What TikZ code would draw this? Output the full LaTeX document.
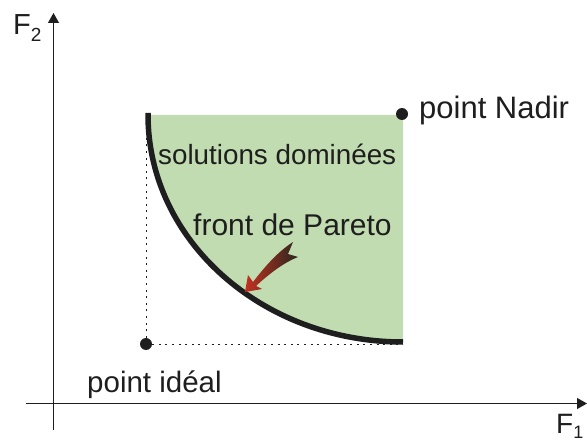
\documentclass[tikz,border=0pt]{standalone}
\usepackage{fontspec}
\setmainfont{Liberation Sans}
\usetikzlibrary{arrows.meta}
\definecolor{greenfill}{RGB}{192,220,176}
\definecolor{txt}{RGB}{30,30,30}
\definecolor{arrred}{RGB}{196,48,32}
\definecolor{arrdark}{RGB}{40,40,30}
\tikzset{
  axisline/.style={line width=1.2pt, draw=txt, -{Triangle[length=10pt,width=11pt]}},
  dotline/.style={line width=1pt, draw=txt, dash pattern=on 2pt off 4.6pt},
  frontline/.style={line width=5.5pt, draw=txt},
  dotpt/.style={circle, fill=txt, inner sep=0pt, minimum size=12pt},
  lbl/.style={anchor=base west, inner sep=0pt, text=txt},
}
\begin{document}
\begin{tikzpicture}[x=1pt,y=-1pt]
\useasboundingbox (0,0) rectangle (587,441);
% green region
\fill[greenfill] (148,115) arc[start angle=180, end angle=90, x radius=255, y radius=227] -- (403,115) -- cycle;
% axes
\coordinate (xs) at (26,403.5);
\coordinate (xe) at (587,403.5);
\coordinate (ys) at (53.5,430);
\coordinate (ye) at (53.5,13);
\draw[axisline] (xs) -- (xe);
\draw[axisline] (ys) -- (ye);
% points
\node[dotpt] (nadir) at (402,114) {};
\node[dotpt] (ideal) at (146,344) {};
\coordinate (top) at (146,115);
\coordinate (right) at (403,344);
\draw[dotline] (ideal) -- (top);
\draw[dotline] (ideal) -- (right);
% Pareto front
\draw[frontline] (148,113) -- (148,115) arc[start angle=180, end angle=90, x radius=255, y radius=227];
% fancy arrow
\shade[left color=arrred, right color=arrdark]
  (245,292) -- (248,275) -- (253,282)
  .. controls (266,265) and (279,251) .. (293,242)
  -- (288,254) -- (298,257)
  .. controls (283,263) and (269,274) .. (256,286)
  -- (262,289) -- cycle;
% labels
\node[lbl, font=\fontsize{29}{29}\selectfont] (f2) at (13,35) {F\raisebox{-7pt}{\fontsize{19}{19}\selectfont 2}};
\node[lbl, font=\fontsize{28}{28}\selectfont] (f1) at (556,433) {F\raisebox{-5pt}{\fontsize{18}{18}\selectfont 1}};
\node[lbl, font=\fontsize{31}{31}\selectfont] (lnadir) at (419,119) {point Nadir};
\node[lbl, font=\fontsize{29.5}{29.5}\selectfont] (lideal) at (87,392) {point idéal};
\node[lbl, font=\fontsize{27.8}{27.8}\selectfont] (ldom) at (158,165) {solutions dominées};
\node[lbl, font=\fontsize{30}{30}\selectfont] (lfront) at (193,236) {front de Pareto};
\end{tikzpicture}
\end{document}
